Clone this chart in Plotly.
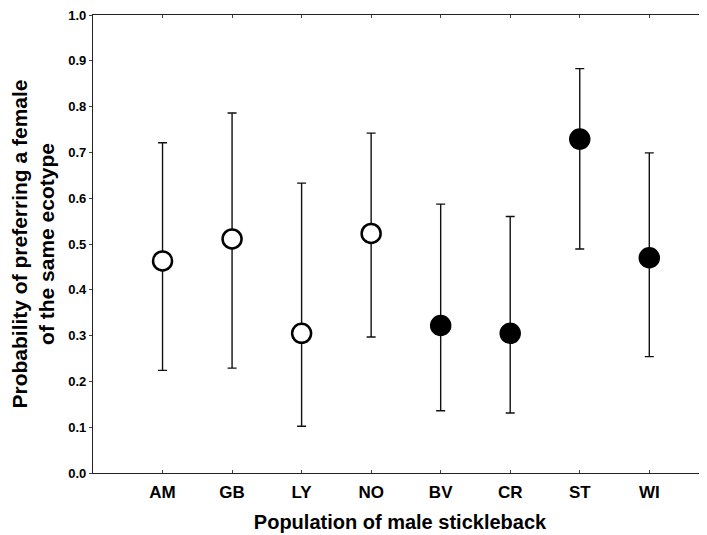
import plotly.graph_objects as go

populations = ["AM", "GB", "LY", "NO", "BV", "CR", "ST", "WI"]
probability = [0.463, 0.511, 0.305, 0.523, 0.322, 0.305, 0.729, 0.470]
upper_ci = [0.721, 0.786, 0.633, 0.742, 0.587, 0.560, 0.883, 0.699]
lower_ci = [0.224, 0.229, 0.102, 0.297, 0.136, 0.131, 0.489, 0.254]
ecotype_filled = [False, False, False, False, True, True, True, True]
y_ticks = [0.0, 0.1, 0.2, 0.3, 0.4, 0.5, 0.6, 0.7, 0.8, 0.9, 1.0]

err_plus = [u - p for u, p in zip(upper_ci, probability)]
err_minus = [p - l for p, l in zip(probability, lower_ci)]
fill_colors = ["black" if f else "white" for f in ecotype_filled]

fig = go.Figure()
fig.add_trace(go.Scatter(
    x=populations,
    y=probability,
    mode="markers",
    marker=dict(size=19, color=fill_colors, line=dict(color="black", width=2.5)),
    error_y=dict(type="data", symmetric=False, array=err_plus, arrayminus=err_minus,
                 color="#111111", thickness=1.4, width=4.5),
    showlegend=False,
))

font_family = "Liberation Sans, Arial, sans-serif"
fig.update_layout(
    width=699, height=527,
    margin=dict(l=85, r=0, t=7, b=62),
    plot_bgcolor="white", paper_bgcolor="white",
    font=dict(family=font_family, color="black"),
    xaxis=dict(
        type="category",
        categoryorder="array", categoryarray=populations,
        range=[-1, 7.83],
        showline=True, linecolor="#222222", linewidth=1.3,
        mirror="ticks", ticks="inside", ticklen=3, tickcolor="#444444",
        showgrid=False, zeroline=False,
        ticklabelstandoff=3,
        tickfont=dict(size=17, family=font_family, weight="bold"),
        title=dict(text="<b>Population of male stickleback</b>", font=dict(size=20), standoff=14),
    ),
    yaxis=dict(
        range=[0, 1],
        tickvals=y_ticks, tickformat=".1f",
        showline=True, linecolor="#222222", linewidth=1.3,
        ticks="outside", ticklen=3, tickcolor="#444444",
        showgrid=False, zeroline=False,
        ticklabeloverflow="allow",
        tickfont=dict(size=13, family=font_family, weight="bold"),
        title=dict(text="<b>Probability of preferring a female<br>of the same ecotype</b>",
                   font=dict(size=21), standoff=7),
    ),
)

fig.write_html("out.html")
